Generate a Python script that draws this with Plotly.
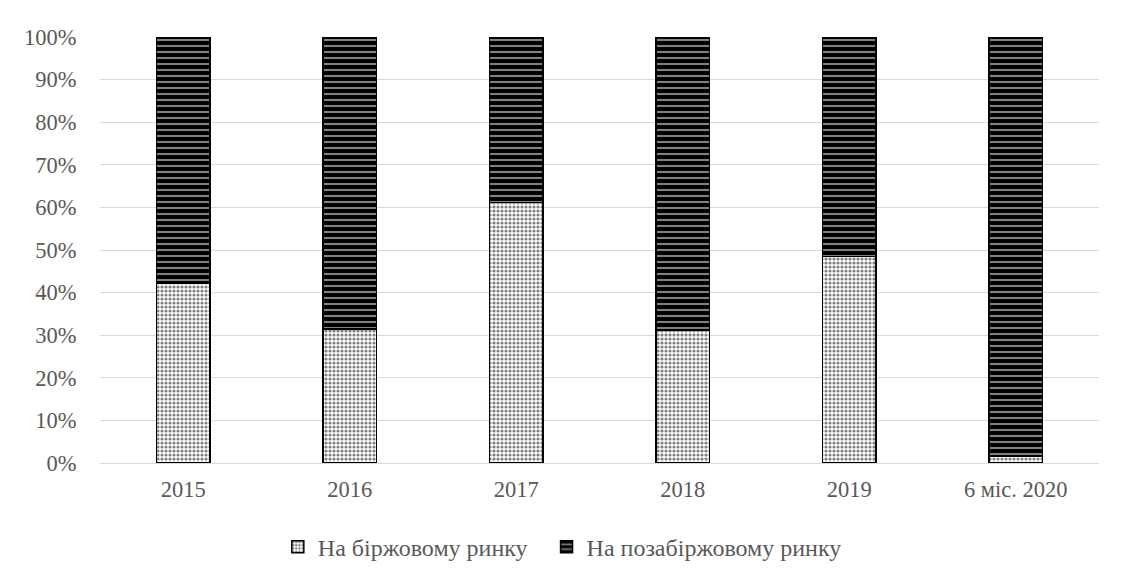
import plotly.graph_objects as go

categories = ["2015", "2016", "2017", "2018", "2019", "6 міс. 2020"]
exchange = [42.2, 31.4, 61.1, 31.2, 48.5, 1.5]
otc = [round(100 - v, 1) for v in exchange]
series_names = ["На біржовому ринку", "На позабіржовому ринку"]

fig = go.Figure()
fig.add_trace(go.Bar(
    x=categories, y=exchange, name=series_names[0], legend="legend",
    marker=dict(color="white", line=dict(color="black", width=1.5),
                pattern=dict(shape=".", fgcolor="black", bgcolor="white", size=4, solidity=0.5)),
))
fig.add_trace(go.Bar(
    x=categories, y=otc, name=series_names[1], legend="legend2",
    marker=dict(color="black", line=dict(color="black", width=1.5),
                pattern=dict(shape="-", fgcolor="white", bgcolor="black", size=6, solidity=0.35)),
))

font = dict(family="Liberation Serif", size=22.5, color="#595959")
lfont = dict(family="Liberation Serif", size=24, color="#595959")
fig.update_layout(
    barmode="stack", bargap=0.68,
    width=1120, height=572,
    margin=dict(l=92, r=29, t=29, b=116),
    paper_bgcolor="white", plot_bgcolor="white",
    font=font,
    showlegend=True,
    legend=dict(orientation="h", x=0.178, xanchor="left", y=-0.142, yanchor="top",
                font=lfont, itemwidth=30, bgcolor="rgba(0,0,0,0)"),
    legend2=dict(orientation="h", x=0.447, xanchor="left", y=-0.142, yanchor="top",
                 font=lfont, itemwidth=30, bgcolor="rgba(0,0,0,0)"),
    xaxis=dict(showgrid=False, showline=True, linecolor="#d9d9d9", linewidth=1,
               ticks="outside", ticklen=6, tickcolor="rgba(0,0,0,0)", tickfont=font,
               automargin=False),
    yaxis=dict(range=[0, 100], dtick=10, ticksuffix="%", showgrid=True, gridcolor="#d9d9d9",
               gridwidth=1, zeroline=False, showline=False,
               ticks="outside", ticklen=18, tickcolor="rgba(0,0,0,0)", tickfont=font,
               automargin=False),
)
fig.write_html("out.html")
